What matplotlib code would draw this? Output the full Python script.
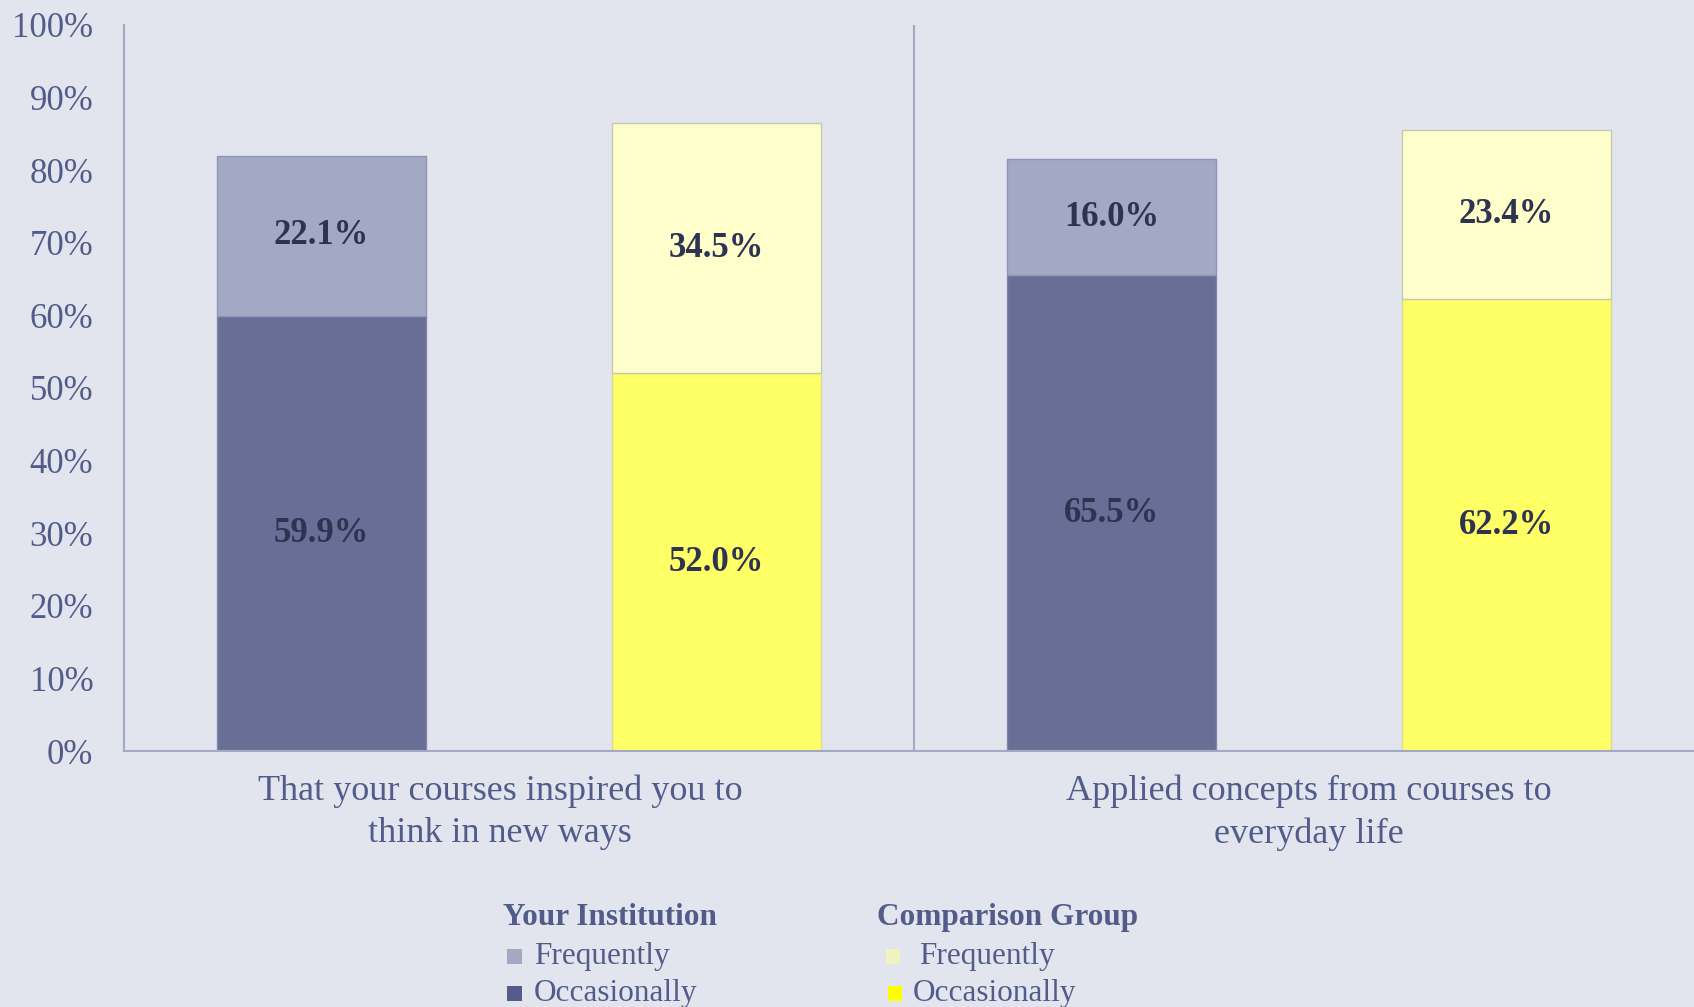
import matplotlib.pyplot as plt
from matplotlib.patches import Rectangle
from matplotlib.transforms import blended_transform_factory

# data
categories = ["That your courses inspired you to\nthink in new ways",
              "Applied concepts from courses to\neveryday life"]
inst_occasionally = [59.9, 65.5]
inst_frequently = [22.1, 16.0]
comp_occasionally = [52.0, 62.2]
comp_frequently = [34.5, 23.4]
yticks = [0, 10, 20, 30, 40, 50, 60, 70, 80, 90, 100]

plt.rcParams['font.family'] = ['Liberation Serif', 'DejaVu Serif']

bg = '#E2E5EE'
axis_col = '#A3A8C3'
tick_col = '#525C8A'
label_col = '#2E3352'

fig = plt.figure(figsize=(16.94, 10.07), dpi=100, facecolor=bg)
# right half of the plot runs slightly past the figure edge, like the original
ax = fig.add_axes([0.0732, 0.2542, 0.9327, 0.7210], facecolor=bg)

x = range(len(categories))
width = 0.265
off = 0.25
xi = [i - off for i in x]
xc = [i + off for i in x]

b1 = ax.bar(xi, inst_occasionally, width, color='#676F96', edgecolor='#8088AE', linewidth=1)
b2 = ax.bar(xi, inst_frequently, width, bottom=inst_occasionally, color='#A3A8C3',
            edgecolor='#8F95B6', linewidth=1)
b3 = ax.bar(xc, comp_occasionally, width, color='#FFFF66', edgecolor='#D8D8A0', linewidth=1)
b4 = ax.bar(xc, comp_frequently, width, bottom=comp_occasionally, color='#FFFFCC',
            edgecolor='#C8C8B0', linewidth=1)

for cont in (b1, b2, b3, b4):
    ax.bar_label(cont, labels=[f"{r.get_height():.1f}%" for r in cont], label_type='center',
                 fontsize=25, fontweight='bold', color=label_col)

ax.set_xlim(-0.5, 1.5)
ax.set_ylim(0, 100)
ax.set_yticks(yticks)
ax.set_yticklabels([f"{t}%" for t in yticks])
ax.set_xticks([])
ax.tick_params(axis='y', length=0, pad=22, labelsize=25, labelcolor=tick_col)

# category names under each group (first one sits a bit left of centre in the original)
label_shift = [-0.024, 0.0]
trans = blended_transform_factory(ax.transData, ax.transAxes)
for i, name in enumerate(categories):
    ax.text(i + label_shift[i], -0.033, name, transform=trans, ha='center', va='top',
            fontsize=26, color=tick_col, linespacing=1.35)

for s in ('top', 'right'):
    ax.spines[s].set_visible(False)
for s in ('left', 'bottom'):
    ax.spines[s].set_color(axis_col)
    ax.spines[s].set_linewidth(1.5)
ax.axvline(0.5, color=axis_col, linewidth=1.5)

# custom legend
def legend_item(xm, xt, y, color, text):
    fig.patches.append(Rectangle((xm, y - 0.0075), 0.0085, 0.0145, transform=fig.transFigure,
                                 facecolor=color, edgecolor='none'))
    fig.text(xt, y, text, fontsize=22.5, color=tick_col, va='center', ha='left')

fig.text(0.297, 0.0885, "Your Institution", fontsize=22.5, fontweight='bold', color=tick_col, va='center')
legend_item(0.2995, 0.315, 0.0502, '#A3A8C3', "Frequently")
legend_item(0.2995, 0.315, 0.0138, '#555C8A', "Occasionally")

fig.text(0.518, 0.0885, "Comparison Group", fontsize=22.5, fontweight='bold', color=tick_col, va='center')
legend_item(0.523, 0.5425, 0.0502, '#F2F2C0', "Frequently")
legend_item(0.524, 0.539, 0.0138, '#FFFF00', "Occasionally")

fig.savefig('out.png', dpi=100, facecolor=bg)
